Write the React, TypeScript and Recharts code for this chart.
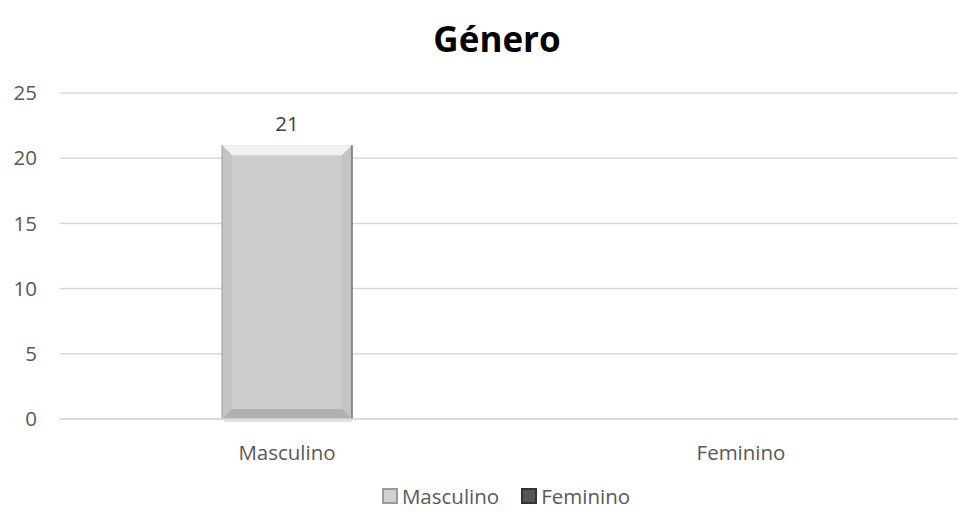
import { BarChart, Bar, XAxis, YAxis, CartesianGrid, Legend, LabelList } from "recharts";

const categories = ["Masculino", "Feminino"];
const masculinoValues = [21, null];
const femininoValues = [null, 0];
const yTicks = [0, 5, 10, 15, 20, 25];

const data = categories.map((name, i) => ({
  name,
  Masculino: masculinoValues[i],
  Feminino: femininoValues[i],
}));

const FONT = "'Open Sans', sans-serif";

function bevelShape(face: string, light: string, dark: string, side: string) {
  return (props: any) => {
    const { x, y, width, height } = props;
    if (!height || height <= 0) return <g />;
    const b = Math.min(10, width / 4, height / 4);
    return (
      <g>
        <rect x={x + 2} y={y + height} width={width - 2} height={3} fill="#e3e3e3" />
        <rect x={x} y={y} width={width} height={height} fill={face} />
        <polygon points={`${x},${y} ${x + width},${y} ${x + width - b},${y + b} ${x + b},${y + b}`} fill={light} />
        <polygon points={`${x},${y} ${x + b},${y + b} ${x + b},${y + height - b} ${x},${y + height}`} fill={side} />
        <polygon points={`${x + width},${y} ${x + width},${y + height} ${x + width - b},${y + height - b} ${x + width - b},${y + b}`} fill={side} />
        <polygon points={`${x},${y + height} ${x + b},${y + height - b} ${x + width - b},${y + height - b} ${x + width},${y + height}`} fill={dark} />
        <line x1={x} y1={y} x2={x} y2={y + height} stroke="#9a9a9a" strokeWidth={1} />
        <line x1={x + width} y1={y} x2={x + width} y2={y + height} stroke="#6e6e6e" strokeWidth={1.5} />
      </g>
    );
  };
}

const legendItems = [
  { name: "Masculino", color: "#d0d0d0", edge: "#9a9a9a" },
  { name: "Feminino", color: "#555555", edge: "#333333" },
];

function LegendContent() {
  return (
    <div style={{ display: "flex", justifyContent: "center", alignItems: "center", gap: 22, paddingLeft: 44, fontFamily: FONT, fontSize: 20.5, color: "#595959" }}>
      {legendItems.map((it) => (
        <div key={it.name} style={{ display: "flex", alignItems: "center", gap: 4 }}>
          <span style={{ display: "inline-block", width: 16, height: 16, background: it.color, border: `2px solid ${it.edge}`, boxSizing: "border-box" }} />
          <span>{it.name}</span>
        </div>
      ))}
    </div>
  );
}

export default function App() {
  return (
    <div style={{ position: "relative", width: 958, height: 512, background: "#fff" }}>
      <style>{`body{margin:0}`}</style>
      <div style={{ position: "absolute", top: 15, left: 36, width: 922, textAlign: "center", fontFamily: FONT, fontWeight: 700, fontSize: 35, color: "#000" }}>
        Género
      </div>
      <BarChart width={958} height={512} data={data} margin={{ top: 93, right: -10, left: 0, bottom: 0 }}>
        <CartesianGrid vertical={false} stroke="#d9d9d9" strokeWidth={1.5} />
        <XAxis dataKey="name" axisLine={{ stroke: "#d9d9d9", strokeWidth: 1.5 }} tickLine={false} height={63} tickMargin={20} tick={{ fill: "#595959", fontSize: 20.5, fontFamily: FONT }} />
        <YAxis domain={[0, 25]} ticks={yTicks} axisLine={false} tickLine={false} width={60} tickSize={0} tickMargin={23} tick={{ fill: "#595959", fontSize: 20.5, fontFamily: FONT }} />
        <Legend verticalAlign="bottom" height={30} content={<LegendContent />} />
        <Bar dataKey="Masculino" stackId="g" barSize={130} isAnimationActive={false} shape={bevelShape("#cdcdcd", "#f2f2f2", "#b0b0b0", "#c4c4c4")}>
          <LabelList dataKey="Masculino" position="top" offset={14} fill="#404040" fontSize={20.5} fontFamily={FONT} />
        </Bar>
        <Bar dataKey="Feminino" stackId="g" barSize={130} isAnimationActive={false} shape={bevelShape("#555555", "#8a8a8a", "#3a3a3a", "#4a4a4a")} />
      </BarChart>
    </div>
  );
}
